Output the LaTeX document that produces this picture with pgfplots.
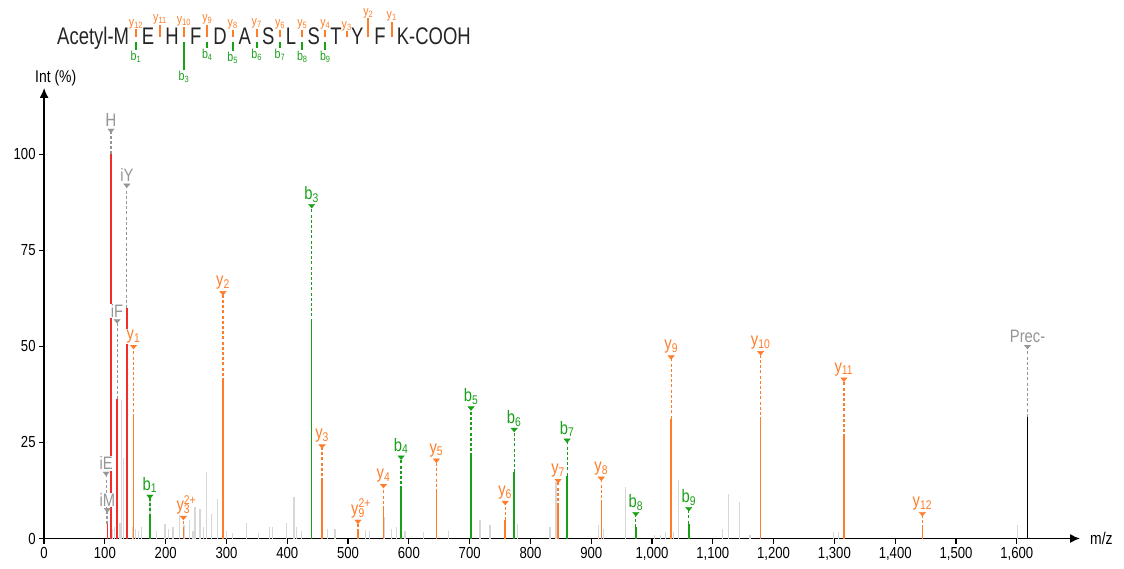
\documentclass[border=0pt]{standalone}
\usepackage{fontspec}
\setmainfont{Liberation Sans}[FakeStretch=0.82]
\newfontfamily\seqfont{Liberation Sans}[FakeStretch=0.77]
\usepackage{pgfplots}
\pgfplotsset{compat=1.18}
\usetikzlibrary{arrows.meta}
\definecolor{bcol}{RGB}{25,160,25}
\definecolor{ycol}{RGB}{255,125,40}
\definecolor{icol}{RGB}{150,150,150}
\definecolor{redpk}{RGB}{240,45,45}
\definecolor{bgpk}{RGB}{215,215,215}
\pgfplotsset{
  annot/.style={only marks, mark=triangle*, mark size=3.6pt,
    mark options={rotate=180, yscale=0.7, fill=#1, draw=#1},
    nodes near coords, point meta=explicit symbolic,
    every node near coord/.style={anchor=south, yshift=2.5pt, inner sep=0.6pt,
      fill=white, text=#1, font=\fontsize{18}{20}\selectfont}},
  conn/.style={draw=#1, mark=none, line width=1.2pt, dash pattern=on 3pt off 2.2pt,
    unbounded coords=jump},
}
\begin{document}
\begin{tikzpicture}[x=1pt,y=1pt]
\useasboundingbox (0,0) rectangle (1124,568);
\begin{axis}[
  at={(44.1pt,29.5pt)}, anchor=south west,
  scale only axis, width=1035.9pt, height=450.5pt,
  xmin=0, xmax=1704, ymin=0, ymax=117.3,
  axis lines=left, clip=false,
  axis line style={black, line width=1.4pt, -{Latex[length=10pt,width=9pt]}},
  tick align=outside, major tick length=5pt,
  tick style={black, line width=1.2pt},
  xtick={0,100,...,1600}, ytick={0,25,50,75,100},
  ticklabel style={font=\fontsize{16}{18}\selectfont},
  /pgf/number format/assume math mode=true,
  xticklabel style={/pgf/number format/fixed, /pgf/number format/1000 sep={,}},
]
% background peaks
\addplot[ycomb, draw=bgpk, line width=1.3pt, mark=none] coordinates {
(113,2.5) (116,3) (125,4) (127.7,36) (130.3,21) (145,3) (150,2.5) (155,2) (160.5,3)
(174.1,10.5) (185,2) (198.9,3.9) (205,2.5) (212,3) (222.4,6) (230,3.5) (238.9,4.7)
(245,2) (248.2,8.2) (256.5,7.8) (262,3) (267.5,17.3) (275.7,6.5) (285.6,10.4) (300,2)
(310,1.5) (333.3,4) (352.4,1.4) (370.5,3) (376.0,3) (399.1,4) (411.1,10.8) (415.5,3)
(423.8,2) (465.9,2.5) (478.5,2.5) (529,2.1) (535,1.9) (559.6,5.6) (571.8,2.5) (580,3)
(593.7,1.9) (623.8,1.7) (664.9,1.9) (717.1,4.9) (733.5,3.4) (778.4,3.8) (832.2,3.1)
(842.1,14.7) (911.7,3.4) (919.9,2.5) (956.7,13.4) (1003.8,0.8) (1014.3,1) (1022.5,1.6)
(1035,1.8) (1043.9,15.3) (1116.3,2.6) (1126.2,11.5) (1143.6,9.5) (1161.2,1)
(1298.2,1.6) (1307.1,1.8) (1600.9,3.4)};
% immonium peaks
\addplot[ycomb, draw=redpk, line width=1.5pt, mark=none] coordinates {
(104.05,3.7) (110.07,100) (120.08,36.3) (136.08,60)};
% b ions
\addplot[ycomb, draw=bcol, line width=1.5pt, mark=none] coordinates {
(174.06,5.7) (440.16,56.5) (587.23,12.8) (702.26,21.4) (773.29,17.2) (860.32,16.4)
(973.41,3.0) (1060.44,3.9)};
% y ions
\addplot[ycomb, draw=ycol, line width=1.5pt, mark=none] coordinates {
(147.11,31.7) (229.13,2.3) (294.18,41) (457.24,14.9) (516.26,1.7) (558.29,7.7)
(645.32,12.1) (758.41,4.7) (845.44,8.4) (916.48,9.2) (1031.50,31.2) (1178.57,30.8)
(1315.63,26.3) (1444.67,2.7)};
% precursor
\addplot[ycomb, draw=black, line width=1.5pt, mark=none] coordinates {(1617.7,31.7)};
% connectors
\addplot[conn=icol] coordinates {
(110.07,100) (110.07,106.3) (110.07,nan)
(136.08,60) (136.08,92) (136.08,nan)
(120.08,36.3) (120.08,56.7) (120.08,nan)
(102.06,3.7) (102.06,17) (102.06,nan)
(104.05,3.7) (104.05,7.5) (104.05,nan)
(1617.7,31.7) (1617.7,50)};
\addplot[conn=bcol] coordinates {
(174.06,5.7) (174.06,11) (174.06,nan)
(440.16,56.5) (440.16,86.7) (440.16,nan)
(587.23,12.8) (587.23,21.2) (587.23,nan)
(702.26,21.4) (702.26,34) (702.26,nan)
(773.29,17.2) (773.29,28.4) (773.29,nan)
(860.32,16.4) (860.32,25.6) (860.32,nan)
(973.41,3.0) (973.41,6.5) (973.41,nan)
(1060.44,3.9) (1060.44,7.8)};
\addplot[conn=ycol] coordinates {
(147.11,31.7) (147.11,50) (147.11,nan)
(229.13,2.3) (229.13,5.5) (229.13,nan)
(294.18,41) (294.18,64) (294.18,nan)
(457.24,14.9) (457.24,24.1) (457.24,nan)
(516.26,1.7) (516.26,4.5) (516.26,nan)
(558.29,7.7) (558.29,13.8) (558.29,nan)
(645.32,12.1) (645.32,20.4) (645.32,nan)
(758.41,4.7) (758.41,9.4) (758.41,nan)
(845.44,8.4) (845.44,15.1) (845.44,nan)
(916.48,9.2) (916.48,15.7) (916.48,nan)
(1031.50,31.2) (1031.50,47.3) (1031.50,nan)
(1178.57,30.8) (1178.57,48.4) (1178.57,nan)
(1315.63,26.3) (1315.63,41.5) (1315.63,nan)
(1444.67,2.7) (1444.67,6.5)};
% markers and labels
\addplot[annot=icol] coordinates {
(110.07,106.3) [i\kern-0.2em H] (136.08,92) [iY] (120.08,56.7) [iF]
(102.06,17) [iE] (104.05,7.5) [iM] (1617.7,50) [Prec-]};
\addplot[annot=bcol] coordinates {
(174.06,11) [b\textsubscript{1}] (440.16,86.7) [b\textsubscript{3}]
(587.23,21.2) [b\textsubscript{4}] (702.26,34) [b\textsubscript{5}]
(773.29,28.4) [b\textsubscript{6}] (860.32,25.6) [b\textsubscript{7}]
(973.41,6.5) [b\textsubscript{8}] (1060.44,7.8) [b\textsubscript{9}]};
\addplot[annot=ycol] coordinates {
(147.11,50) [y\textsubscript{1}] (229.13,5.5) [y\rlap{\textsuperscript{2+}}\textsubscript{3}]
(294.18,64) [y\textsubscript{2}] (457.24,24.1) [y\textsubscript{3}]
(516.26,4.5) [y\rlap{\textsuperscript{2+}}\textsubscript{9}] (558.29,13.8) [y\textsubscript{4}]
(645.32,20.4) [y\textsubscript{5}] (758.41,9.4) [y\textsubscript{6}]
(845.44,15.1) [y\textsubscript{7}] (916.48,15.7) [y\textsubscript{8}]
(1031.50,47.3) [y\textsubscript{9}] (1178.57,48.4) [y\textsubscript{10}]
(1315.63,41.5) [y\textsubscript{11}] (1444.67,6.5) [y\textsubscript{12}]};
\end{axis}
% axis titles
\node[anchor=west, inner sep=0, font=\fontsize{17}{19}\selectfont] at (35,490) {Int (\%)};
\node[anchor=west, inner sep=0, font=\fontsize{17}{19}\selectfont] at (1090,30) {m/z};
% peptide sequence
\begin{scope}[font=\seqfont\fontsize{24}{27}\selectfont, text=black!85]
\node[anchor=base west, inner sep=0] at (57,523) {Acetyl-M};
\foreach \c/\x in {E/148,H/172,F/195.7,D/220,A/244.7,S/268.3,L/291,S/313.7,T/336,Y/357.3,F/380}
  \node[anchor=base, inner sep=0] at (\x,523) {\c};
\node[anchor=base west, inner sep=0] at (396.7,523) {K-COOH};
\end{scope}
\foreach \x/\t/\n in {136/538.5/12,160/543/11,184/541/10,207.3/543/9,232.7/538/8,256.7/539/7,280/538/6,302.3/538/5,325.3/538/4,346.7/536.5/3,368.3/549.5/2,391.7/546.3/1}{
  \draw[ycol, line width=2pt] (\x,530.5) -- (\x,\t);
  \node[anchor=south, inner sep=0.5pt, text=ycol, font=\fontsize{13}{14}\selectfont] at (\x,\t) {y\textsubscript{\n}};
}
\foreach \x/\b/\n in {136/518/1,184/498/3,207.3/519.5/4,232.7/516.5/5,256.7/519.5/6,280/519.5/7,302.3/518/8,325.3/518/9}{
  \draw[bcol, line width=2pt] (\x,526.3) -- (\x,\b);
  \node[anchor=north, inner sep=0.5pt, text=bcol, font=\fontsize{13}{14}\selectfont] at (\x,\b) {b\textsubscript{\n}};
}
\end{tikzpicture}
\end{document}
